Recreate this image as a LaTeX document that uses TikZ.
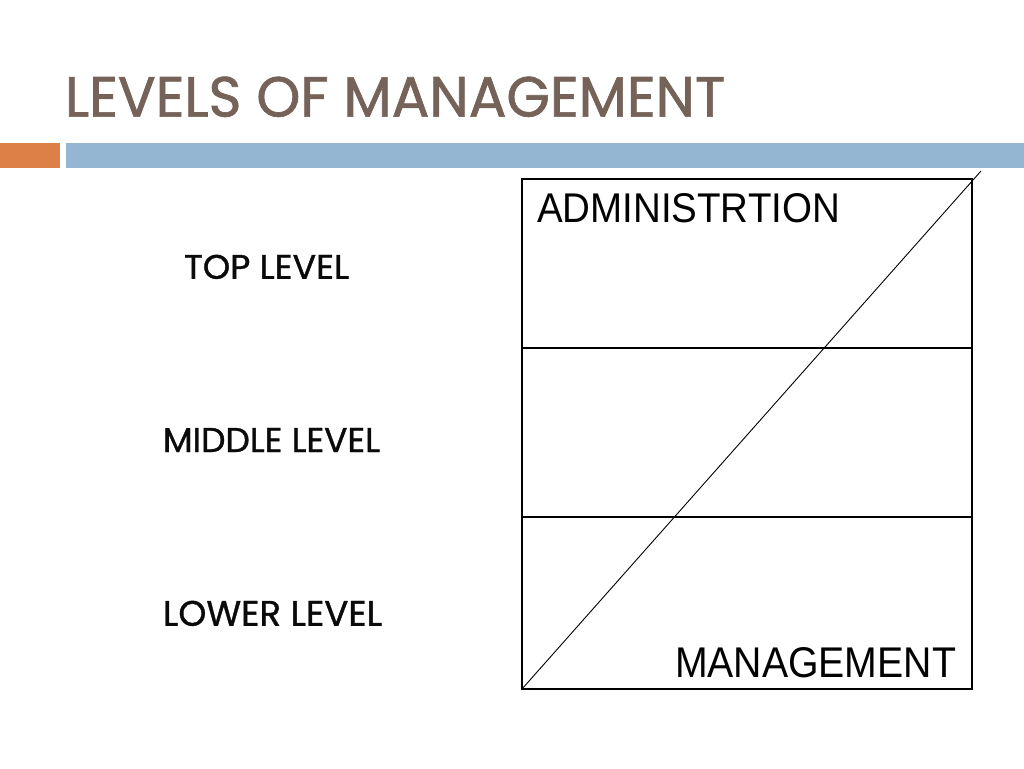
\documentclass[tikz,border=0pt]{standalone}
\usepackage{fontspec}
\setmainfont{Liberation Sans}
\newfontfamily\geofont[FakeBold=1.0]{Poppins}
\newfontfamily\geotitle[FakeBold=1.2]{Poppins}
\definecolor{titlebrown}{RGB}{117,98,89}
\definecolor{barorange}{RGB}{221,128,71}
\definecolor{barblue}{RGB}{148,182,210}
\definecolor{labelblack}{RGB}{10,10,10}
\begin{document}
\begin{tikzpicture}[x=1pt,y=-1pt,
  fit text/.style={anchor=south west,inner sep=0pt,outer sep=0pt},
  levelbox/.style={draw=black,line width=2.6pt},
  divider/.style={draw=black,line width=1.1pt},
  diag/.style={draw=black,line width=0.9pt}]
\useasboundingbox[fill=white] (0,0) rectangle (1024,768);
% title
\node[fit text,text=titlebrown] (title) at (65,117) {\resizebox{660pt}{40pt}{\geotitle LEVELS OF MANAGEMENT}};
% bars
\fill[barorange] (0,143) rectangle (60,168);
\fill[barblue] (66,143) rectangle (1024,168);
% left labels
\node[fit text,text=labelblack] (top) at (184,279) {\resizebox{165pt}{24pt}{\geofont TOP LEVEL}};
\node[fit text,text=labelblack] (mid) at (163,452) {\resizebox{217pt}{24pt}{\geofont MIDDLE LEVEL}};
\node[fit text,text=labelblack] (low) at (163,626) {\resizebox{219pt}{25pt}{\geofont LOWER LEVEL}};
% box
\coordinate (bl) at (522,689);
\coordinate (tr) at (972,179);
\coordinate (d1l) at (522,348);
\coordinate (d1r) at (972,348);
\coordinate (d2l) at (522,517);
\coordinate (d2r) at (972,517);
\coordinate (dend) at (981,171);
\draw[divider] (d1l) -- (d1r);
\draw[divider] (d2l) -- (d2r);
\draw[diag] (bl) -- (dend);
\draw[levelbox] (bl) rectangle (tr);
\node[fit text] (admin) at (537,223) {\resizebox{303pt}{29pt}{ADMINISTRTION}};
\node[fit text] (mgmt) at (675,678) {\resizebox{281pt}{30pt}{MANAGEMENT}};
\end{tikzpicture}
\end{document}
